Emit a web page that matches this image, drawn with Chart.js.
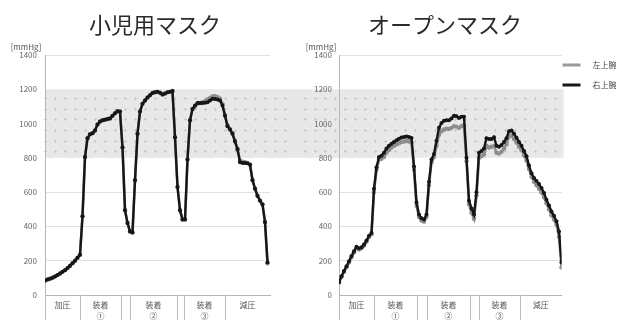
<!DOCTYPE html>
<html><head><meta charset="utf-8">
<script src="https://cdn.jsdelivr.net/npm/chart.js@4.4.1/dist/chart.umd.min.js"></script>
<style>
html,body{margin:0;padding:0;background:#fff;}
#wrap{position:relative;width:622px;height:320px;overflow:hidden;background:#fff;}
canvas{position:absolute;top:0;}
#c1{left:0;} #c2{left:296px;}
</style></head><body>
<div id="wrap"><canvas id="c1" width="296" height="320"></canvas><canvas id="c2" width="326" height="320"></canvas></div>
<script>
const titles = ['小児用マスク', 'オープンマスク'];
const seriesNames = ['右上腕', '左上腕'];
const yTickValues = [0, 200, 400, 600, 800, 1000, 1200, 1400];
const bandRange = [800, 1200];
const phaseLabels = ['加圧', '装着\n①', '装着\n②', '装着\n③', '減圧'];
const phaseStartsL = [0, 14, 34, 55.6, 72];
const phaseEndsL = [14, 30.4, 52.8, 72, 90];
const phaseStartsR = [0, 14, 35.2, 56, 72.4];
const phaseEndsR = [14, 31.2, 52.4, 72.4, 89];

const childRight = [85,90,95,101,108,116,125,135,145,157,170,185,200,217,235,
  460,805,915,938,944,960,995,1012,1019,1023,1027,1030,1045,1060,1072,
  1070,860,495,420,370,365,670,940,1070,1115,1135,1152,1165,1178,1183,
  1185,1180,1170,1175,1182,1185,1190,920,630,495,440,440,790,1020,1085,
  1105,1120,1120,1120,1122,1125,1135,1145,1143,1140,1135,1105,1045,985,965,
  940,895,850,775,770,770,768,760,670,620,578,550,528,425,190];
const childLeft = [85,90,95,101,108,116,125,135,145,157,170,185,200,217,235,
  460,805,915,938,944,960,995,1012,1019,1023,1027,1030,1045,1060,1072,
  1070,860,495,420,370,365,670,940,1070,1115,1135,1152,1165,1178,1183,
  1185,1180,1170,1175,1182,1185,1190,920,630,495,440,440,790,1020,1085,
  1100,1115,1120,1125,1130,1140,1150,1158,1160,1155,1145,1115,1050,990,968,
  945,900,855,785,778,775,770,762,672,622,580,552,530,428,185];
const openRight = [75,110,140,168,197,227,255,282,272,278,295,318,345,362,620,
  745,805,813,830,855,870,883,893,903,911,919,922,925,921,916,
  750,540,470,447,440,470,660,790,822,900,975,1003,1016,1020,1020,
  1030,1045,1043,1033,1040,1040,800,550,505,470,600,830,840,855,915,
  910,910,920,870,865,875,893,915,955,960,940,918,893,870,840,
  810,755,710,683,665,647,624,595,555,522,487,462,430,370,190];
const openLeft = [72,105,135,162,190,220,248,275,265,272,288,310,338,355,600,
  730,790,795,805,830,845,860,870,878,885,892,895,898,895,890,
  730,520,455,435,428,455,640,775,805,870,935,955,965,970,968,
  975,985,982,975,985,990,780,530,480,445,580,800,810,820,870,
  860,865,870,830,825,835,855,880,925,930,910,890,865,845,815,
  785,735,690,660,640,620,598,570,535,500,465,440,410,340,160];

const FONT = '"Noto Sans CJK JP", "Noto Sans", sans-serif';
const BLACK = '#161616', GRAY = '#8e8e8e';

const decor = {
  id: 'decor',
  beforeDraw(chart, args, o) {
    const {ctx, chartArea: a, scales: {y}} = chart;
    const t = y.getPixelForValue(bandRange[1]), b = y.getPixelForValue(bandRange[0]);
    const x0 = o.bandFromArea ? a.left : 0;
    const x1 = o.bandToArea ? a.right + 2 : chart.width;
    ctx.save();
    ctx.fillStyle = '#e8e8e8';
    ctx.fillRect(x0, t, x1 - x0, b - t);
    ctx.fillStyle = '#cacaca';
    for (let r = 0; r < 6; r++) {
      const yy = Math.round(t + 9 + r * 10.6);
      for (let gx = Math.ceil((x0 + o.offset - 5) / 10) * 10 + 5; gx < x1 + o.offset - 1; gx += 10) {
        const lx = Math.round(gx - o.offset);
        ctx.fillRect(lx - 1, yy, 3, 1);
        ctx.fillRect(lx, yy - 1, 1, 3);
      }
    }
    ctx.restore();
  },
  afterDraw(chart, args, o) {
    const {ctx, chartArea: a, scales: {x}} = chart;
    ctx.save();
    ctx.fillStyle = '#2a2a2a';
    ctx.font = '22px ' + FONT;
    ctx.textAlign = 'center'; ctx.textBaseline = 'middle';
    ctx.fillText(o.title, o.titleX - o.offset, 25);
    ctx.font = '8px ' + FONT; ctx.fillStyle = '#555';
    ctx.fillText('[mmHg]', o.unitX - o.offset, 47);
    ctx.strokeStyle = '#bdbdbd'; ctx.lineWidth = 1;
    const edges = [...new Set(o.starts.concat(o.ends))].filter(v => v < x.max);
    edges.forEach(v => {
      const px = Math.round(x.getPixelForValue(v)) + 0.5;
      ctx.beginPath(); ctx.moveTo(px, a.bottom); ctx.lineTo(px, chart.height); ctx.stroke();
    });
    ctx.fillStyle = '#555';
    o.starts.forEach((s, i) => {
      const cx = (x.getPixelForValue(s) + x.getPixelForValue(o.ends[i])) / 2;
      const lines = phaseLabels[i].split('\n');
      ctx.font = '8px ' + FONT;
      ctx.fillText(lines[0], cx, a.bottom + 10);
      if (lines[1]) ctx.fillText(lines[1], cx, a.bottom + 21);
    });
    if (o.legend) {
      const items = [[seriesNames[1], '#9a9a9a', 65], [seriesNames[0], BLACK, 85]];
      items.forEach(([name, col, yy]) => {
        const lx = a.right + 1;
        ctx.strokeStyle = col; ctx.lineWidth = 3;
        ctx.beginPath(); ctx.moveTo(lx, yy); ctx.lineTo(lx + 18, yy); ctx.stroke();
        ctx.fillStyle = '#444'; ctx.textAlign = 'left'; ctx.font = '8px ' + FONT;
        ctx.fillText(name, lx + 30, yy);
      });
    }
    ctx.restore();
  }
};

function toXY(arr) { return arr.map((v, i) => ({x: i, y: v})); }

function makeChart(id, black, gray, xMax, yWidth, padRight, tickPad, decorOpts) {
  return new Chart(document.getElementById(id), {
    type: 'line',
    data: {
      datasets: [
        {label: seriesNames[0], data: toXY(black), borderColor: BLACK, backgroundColor: BLACK,
         borderWidth: 2.4, pointRadius: 2, pointBorderWidth: 0, pointBackgroundColor: BLACK, tension: 0},
        {label: seriesNames[1], data: toXY(gray), borderColor: GRAY, backgroundColor: GRAY,
         borderWidth: 2.6, pointRadius: 2.2, pointBorderWidth: 0, pointBackgroundColor: GRAY, tension: 0}
      ]
    },
    options: {
      responsive: false, animation: false, devicePixelRatio: 1,
      layout: {padding: {left: 0, right: padRight, top: 55, bottom: 0}},
      plugins: {legend: {display: false}, tooltip: {enabled: false}, decor: decorOpts},
      scales: {
        x: {type: 'linear', min: 0, max: xMax,
            ticks: {display: false}, grid: {display: false},
            border: {display: true, color: '#b5b5b5', width: 1},
            afterFit(s) { s.height = 25; }},
        y: {type: 'linear', min: 0, max: 1400,
            afterBuildTicks(s) { s.ticks = yTickValues.map(v => ({value: v})); },
            ticks: {padding: tickPad, color: '#666', font: {family: FONT, size: 8},
                    callback: v => String(v)},
            grid: {drawTicks: false, color: c => (c.tick && c.tick.value >= bandRange[0] && c.tick.value <= bandRange[1]) ? 'rgba(0,0,0,0)' : '#e1e1e1'},
            border: {display: true, color: '#b5b5b5', width: 1},
            afterFit(s) { s.width = yWidth; }}
      }
    },
    plugins: [decor]
  });
}

makeChart('c1', childRight, childLeft, 90, 45, 26, 8,
  {offset: 0, bandFromArea: true, bandToArea: false, title: titles[0], titleX: 155, unitX: 26,
   starts: phaseStartsL, ends: phaseEndsL, legend: false});
makeChart('c2', openRight, openLeft, 89, 43, 60.5, 7,
  {offset: 296, bandFromArea: false, bandToArea: true, title: titles[1], titleX: 445, unitX: 321,
   starts: phaseStartsR, ends: phaseEndsR, legend: true});
</script>
</body></html>
